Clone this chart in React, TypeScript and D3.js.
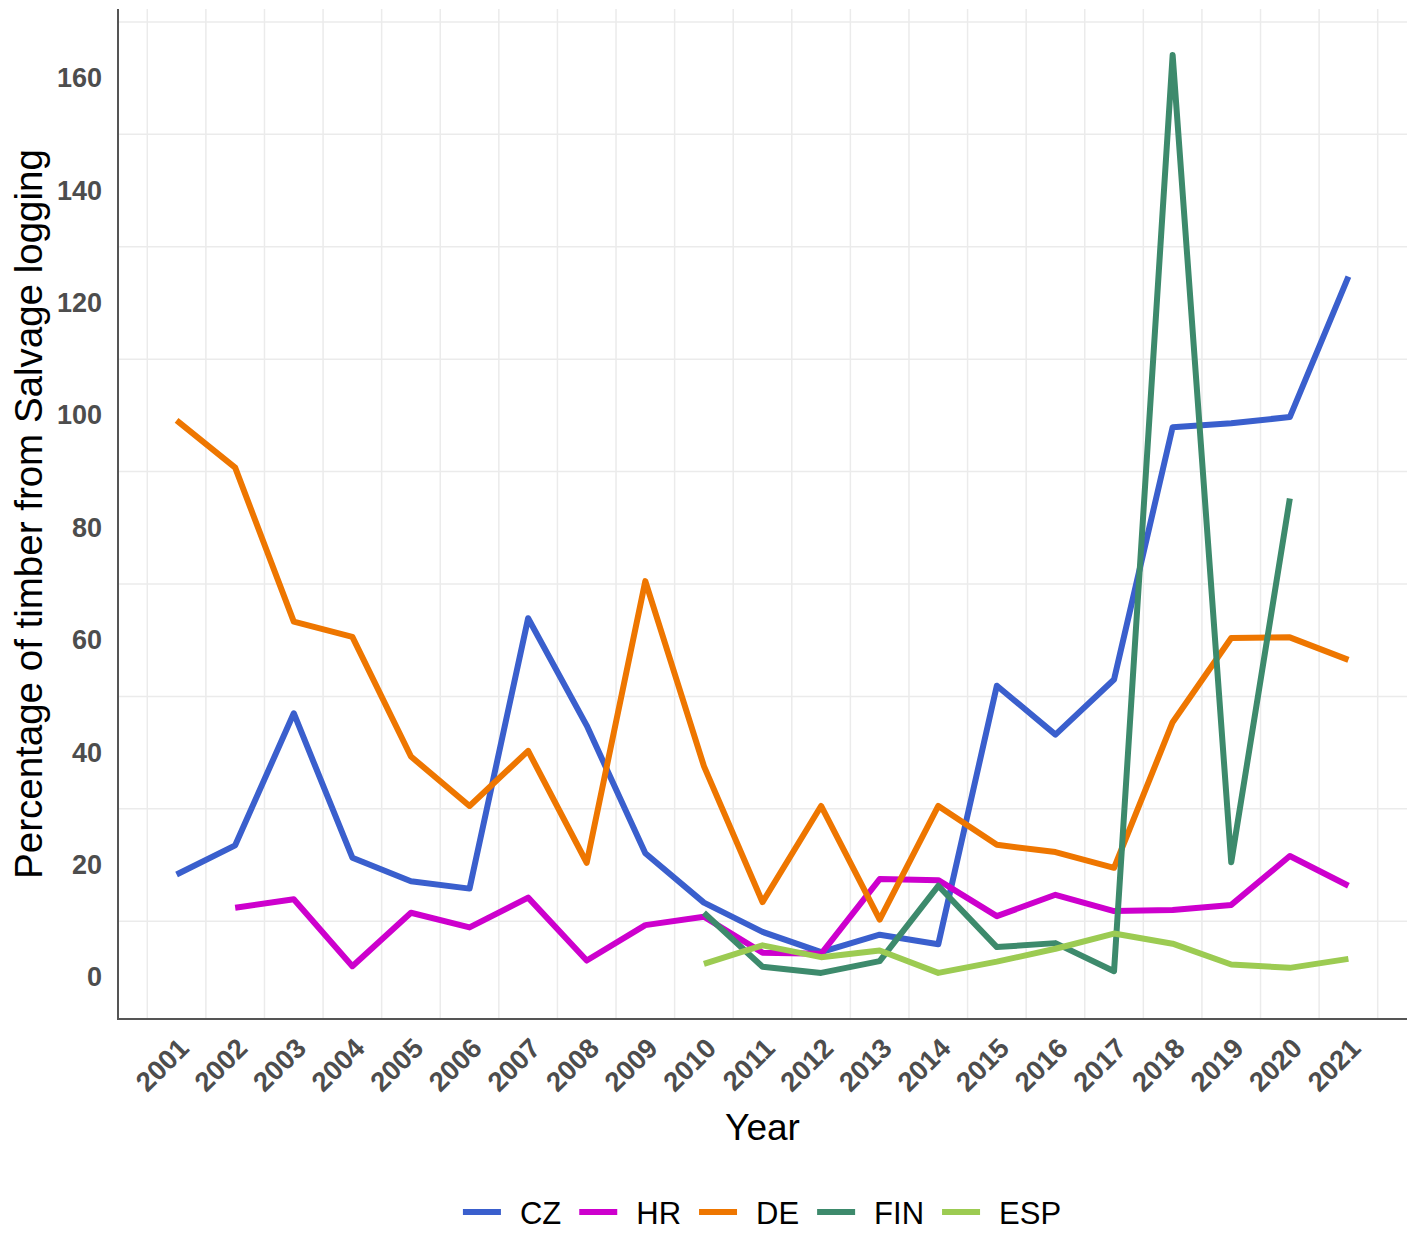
import { useRef, useEffect } from 'react';
import * as d3 from 'd3';

// Years on the x axis
const years = [2001, 2002, 2003, 2004, 2005, 2006, 2007, 2008, 2009, 2010, 2011, 2012, 2013, 2014, 2015, 2016, 2017, 2018, 2019, 2020, 2021];

// Percentage of timber from salvage logging
const czValues = [18.3, 23.5, 47.0, 21.3, 17.1, 15.8, 63.9, 44.8, 22.1, 13.3, 8.1, 4.5, 7.6, 5.9, 51.9, 43.2, 53.0, 97.9, 98.6, 99.7, 124.7];
const hrValues = [null, 12.4, 13.9, 2.0, 11.5, 8.9, 14.2, 3.0, 9.3, 10.8, 4.4, 4.2, 17.5, 17.3, 10.9, 14.7, 11.8, 12.0, 12.9, 21.6, 16.3];
const deValues = [99.1, 90.7, 63.3, 60.6, 39.3, 30.5, 40.3, 20.4, 70.5, 37.6, 13.4, 30.5, 10.3, 30.5, 23.6, 22.3, 19.5, 45.4, 60.4, 60.5, 56.5];
const finValues = [null, null, null, null, null, null, null, null, null, 11.5, 1.9, 0.8, 2.9, 16.3, 5.4, 6.1, 1.1, 164.1, 20.5, 85.2, null];
const espValues = [null, null, null, null, null, null, null, null, null, 2.4, 5.7, 3.6, 4.8, 0.8, 2.8, 5.1, 7.8, 6.0, 2.3, 1.7, 3.3];

const seriesNames = ['CZ', 'HR', 'DE', 'FIN', 'ESP'];
const seriesValues = [czValues, hrValues, deValues, finValues, espValues];
const seriesColors = ['#3A5FCD', '#CD00CD', '#EE7600', '#3D8A6C', '#9CCB52'];

const yTicks = [0, 20, 40, 60, 80, 100, 120, 140, 160];

const FONT = '"Liberation Sans", Arial, sans-serif';

export default function App() {
  const svgRef = useRef<SVGSVGElement>(null);

  useEffect(() => {
    if (!svgRef.current) return;
    const svg = d3.select(svgRef.current);
    svg.selectAll('*').remove();

    const panel = { left: 118, top: 9, right: 1407, bottom: 1019 };
    const x = d3.scaleLinear().domain([2000, 2022]).range([panel.left, panel.right]);
    const y = d3.scaleLinear().domain([-7.4, 172.3]).range([panel.bottom, panel.top]);

    // Minor gridlines only (major removed, as in the figure)
    const yMinor = yTicks.map((t) => t + 10);
    const xMinor = [years[0] - 0.5, ...years.map((yr) => yr + 0.5)];

    const grid = svg.append('g');
    grid.selectAll('line.gy')
      .data(yMinor)
      .join('line')
      .attr('x1', panel.left)
      .attr('x2', panel.right)
      .attr('y1', (d) => y(d))
      .attr('y2', (d) => y(d))
      .attr('stroke', '#ebebeb')
      .attr('stroke-width', 1.5);
    grid.selectAll('line.gx')
      .data(xMinor)
      .join('line')
      .attr('x1', (d) => x(d))
      .attr('x2', (d) => x(d))
      .attr('y1', panel.top)
      .attr('y2', panel.bottom)
      .attr('stroke', '#ebebeb')
      .attr('stroke-width', 1.5);

    // Series lines
    const line = d3.line<number | null>()
      .defined((d) => d !== null)
      .x((_d, i) => x(years[i]))
      .y((d) => y(d as number));

    seriesValues.forEach((vals, i) => {
      svg.append('path')
        .attr('d', line(vals))
        .attr('fill', 'none')
        .attr('stroke', seriesColors[i])
        .attr('stroke-width', 6)
        .attr('stroke-linejoin', 'round');
    });

    // Axis lines
    svg.append('line')
      .attr('x1', panel.left).attr('x2', panel.left)
      .attr('y1', panel.top).attr('y2', panel.bottom + 1)
      .attr('stroke', '#555').attr('stroke-width', 2);
    svg.append('line')
      .attr('x1', panel.left - 1).attr('x2', panel.right)
      .attr('y1', panel.bottom).attr('y2', panel.bottom)
      .attr('stroke', '#555').attr('stroke-width', 2);

    // Y tick labels
    svg.selectAll('text.ytick')
      .data(yTicks)
      .join('text')
      .attr('class', 'ytick')
      .attr('x', 102)
      .attr('y', (d) => y(d))
      .attr('text-anchor', 'end')
      .attr('dominant-baseline', 'central')
      .attr('font-family', FONT)
      .attr('font-weight', 'bold')
      .attr('font-size', '27px')
      .attr('fill', '#4d4d4d')
      .text((d) => d);

    // X tick labels (rotated 45)
    svg.selectAll('text.xtick')
      .data(years)
      .join('text')
      .attr('class', 'xtick')
      .attr('transform', (d) => 'translate(' + x(d) + ',' + (panel.bottom + 17) + ') rotate(-45)')
      .attr('text-anchor', 'end')
      .attr('dy', '0.72em')
      .attr('font-family', FONT)
      .attr('font-weight', 'bold')
      .attr('font-size', '27.5px')
      .attr('fill', '#4d4d4d')
      .text((d) => d);

    // Axis titles
    svg.append('text')
      .attr('x', (panel.left + panel.right) / 2)
      .attr('y', 1140)
      .attr('text-anchor', 'middle')
      .attr('font-family', FONT)
      .attr('font-size', '37px')
      .attr('fill', '#000')
      .text('Year');

    svg.append('text')
      .attr('transform', 'translate(42,' + (panel.top + panel.bottom) / 2 + ') rotate(-90)')
      .attr('text-anchor', 'middle')
      .attr('font-family', FONT)
      .attr('font-size', '38.5px')
      .attr('fill', '#000')
      .text('Percentage of timber from Salvage logging');

    // Legend
    const legend = svg.append('g');
    const keyW = 38;
    const keyGap = 19;
    const itemGap = 18;
    let cursor = 0;
    seriesNames.forEach((name, i) => {
      legend.append('line')
        .attr('x1', cursor).attr('x2', cursor + keyW)
        .attr('y1', 0).attr('y2', 0)
        .attr('stroke', seriesColors[i])
        .attr('stroke-width', 6);
      const t = legend.append('text')
        .attr('x', cursor + keyW + keyGap)
        .attr('y', 12)
        .attr('font-family', FONT)
        .attr('font-size', '31px')
        .attr('fill', '#000')
        .text(name);
      const w = (t.node() as SVGTextElement).getComputedTextLength();
      cursor += keyW + keyGap + w + itemGap;
    });
    const total = cursor - itemGap;
    legend.attr('transform', 'translate(' + (762 - total / 2) + ',1212)');
  }, []);

  return (
    <svg
      ref={svgRef}
      width={1418}
      height={1241}
      viewBox="0 0 1418 1241"
      style={{ position: 'absolute', left: 0, top: 0, background: '#fff' }}
    />
  );
}
